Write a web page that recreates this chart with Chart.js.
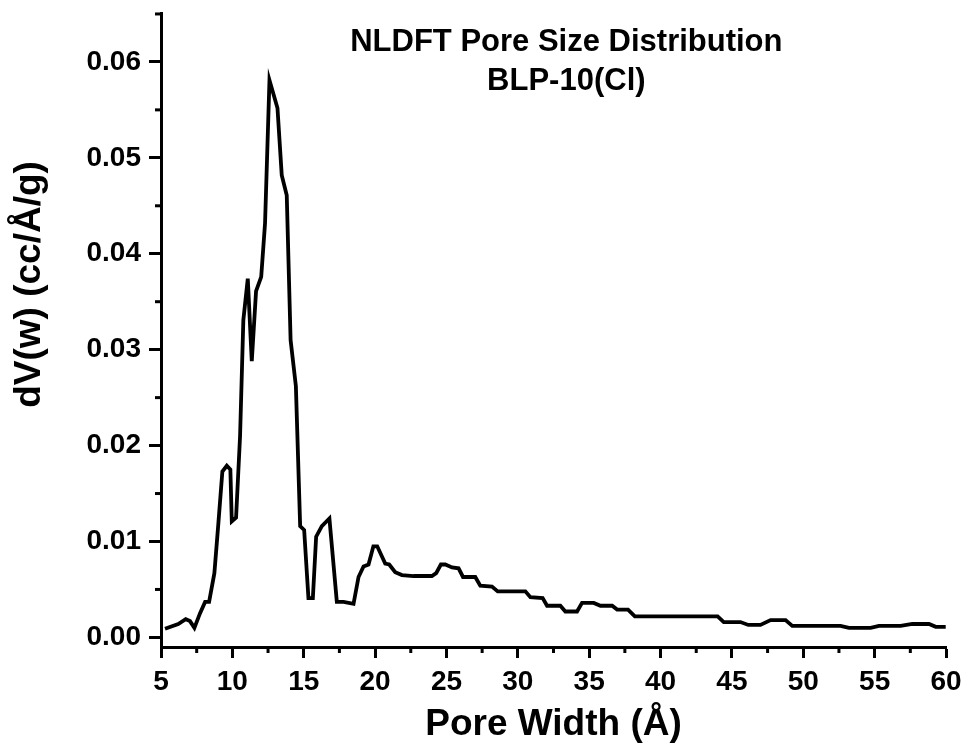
<!DOCTYPE html>
<html>
<head>
<meta charset="utf-8">
<script src="https://cdn.jsdelivr.net/npm/chart.js@4.4.1/dist/chart.umd.min.js"></script>
<style>
  html, body { margin: 0; padding: 0; background: #ffffff; }
  #wrap { width: 967px; height: 753px; position: relative; }
</style>
</head>
<body>
<div id="wrap"><canvas id="c"></canvas></div>
<script>
// Pore width (Å)
const poreWidth = [
  5.28, 6.21, 6.73, 7.03, 7.34, 7.73, 8.09, 8.37, 8.74, 9.02,
  9.30, 9.61, 9.86, 9.96, 10.26, 10.54, 10.77, 11.08, 11.36, 11.66,
  12.02, 12.29, 12.60, 13.16, 13.46, 13.81, 14.08, 14.45, 14.75, 15.03,
  15.33, 15.64, 15.87, 16.27, 16.80, 17.32, 17.79, 18.49, 18.84, 19.19,
  19.54, 19.88, 20.15, 20.71, 20.99, 21.41, 21.88, 22.70, 23.98, 24.28,
  24.61, 24.92, 25.39, 25.85, 26.16, 27.02, 27.37, 28.19, 28.59, 29.47,
  30.53, 30.88, 31.74, 32.05, 32.98, 33.33, 34.15, 34.50, 35.32, 35.79,
  36.61, 36.96, 37.72, 38.20, 42.57, 44.00, 44.43, 45.60, 46.15, 47.00,
  47.71, 48.76, 49.23, 52.61, 53.20, 54.72, 55.30, 56.82, 57.64, 58.81,
  59.28, 59.98
];

// dV(w) (cc/Å/g)
const dV = [
  0.0009, 0.0014, 0.0019, 0.0017, 0.0010, 0.0025, 0.0037, 0.0037, 0.0067, 0.0119,
  0.0173, 0.0179, 0.0175, 0.0121, 0.0125, 0.0210, 0.0331, 0.0374, 0.0288, 0.0361,
  0.0376, 0.0432, 0.0581, 0.0552, 0.0482, 0.0461, 0.0310, 0.0262, 0.0116, 0.0112,
  0.0041, 0.0041, 0.0105, 0.0116, 0.0124, 0.0037, 0.0037, 0.0035, 0.0063, 0.0074,
  0.0076, 0.0095, 0.0095, 0.0077, 0.0076, 0.0068, 0.0065, 0.0064, 0.0064, 0.0067,
  0.0076, 0.0076, 0.0073, 0.0072, 0.0063, 0.0063, 0.0054, 0.0053, 0.0048, 0.0048,
  0.0048, 0.0042, 0.0041, 0.0033, 0.0033, 0.0027, 0.0027, 0.0036, 0.0036, 0.0033,
  0.0033, 0.0029, 0.0029, 0.0022, 0.0022, 0.0022, 0.0016, 0.0016, 0.0013, 0.0013,
  0.0018, 0.0018, 0.0012, 0.0012, 0.0010, 0.0010, 0.0012, 0.0012, 0.0014, 0.0014,
  0.0011, 0.0011
];

const xTickValues = [5, 10, 15, 20, 25, 30, 35, 40, 45, 50, 55, 60];
const xMinorTicks = [7.5, 12.5, 17.5, 22.5, 27.5, 32.5, 37.5, 42.5, 47.5, 52.5, 57.5];
const yTickValues = [0, 0.01, 0.02, 0.03, 0.04, 0.05, 0.06];
const yMinorTicks = [0.005, 0.015, 0.025, 0.035, 0.045, 0.055, 0.065];
const yTickLabels = ['0.00', '0.01', '0.02', '0.03', '0.04', '0.05', '0.06'];

const titleLines = ['NLDFT Pore Size Distribution', 'BLP-10(Cl)'];
const xTitle = 'Pore Width (Å)';
const yTitle = 'dV(w) (cc/Å/g)';

const FONT = '"Liberation Sans", Arial, Helvetica, sans-serif';
const TICK_FONT = { family: FONT, size: 28, weight: 'bold' };
const AXIS_TITLE_SIZE = 37;
const X_TITLE_FONT = { family: FONT, size: AXIS_TITLE_SIZE, weight: 'bold' };
const HEADING_SIZE = 31;

const points = poreWidth.map((w, i) => ({ x: w, y: dV[i] }));

// Minor ticks on both axes, the rotated y-axis title and the two-line heading
const extras = {
  id: 'extras',
  afterDraw(chart) {
    const { ctx, chartArea, scales } = chart;
    const xs = scales.x, ys = scales.y;
    ctx.save();
    ctx.strokeStyle = '#000';
    ctx.lineWidth = 3;
    ctx.lineCap = 'butt';
    xMinorTicks.forEach(v => {
      const px = xs.getPixelForValue(v);
      ctx.beginPath();
      ctx.moveTo(px, chartArea.bottom);
      ctx.lineTo(px, chartArea.bottom + 6);
      ctx.stroke();
    });
    yMinorTicks.forEach(v => {
      const py = ys.getPixelForValue(v);
      ctx.beginPath();
      ctx.moveTo(chartArea.left, py);
      ctx.lineTo(chartArea.left - 6, py);
      ctx.stroke();
    });
    ctx.fillStyle = '#000';
    ctx.textAlign = 'center';
    ctx.textBaseline = 'middle';

    ctx.font = 'bold ' + HEADING_SIZE + 'px ' + FONT;
    const cx = xs.getPixelForValue(33.4);
    ctx.fillText(titleLines[0], cx, ys.getPixelForValue(0.0620));
    ctx.fillText(titleLines[1], cx, ys.getPixelForValue(0.0580));

    ctx.save();
    ctx.translate(30, ys.getPixelForValue(0.0368));
    ctx.rotate(-Math.PI / 2);
    ctx.font = 'bold ' + AXIS_TITLE_SIZE + 'px ' + FONT;
    ctx.fillText(yTitle, 0, 0);
    ctx.restore();
    ctx.restore();
  }
};

new Chart(document.getElementById('c'), {
  type: 'line',
  data: {
    datasets: [{
      data: points,
      borderColor: '#000000',
      borderWidth: 3.8,
      pointRadius: 0,
      tension: 0,
      fill: false
    }]
  },
  options: {
    responsive: true,
    maintainAspectRatio: false,
    animation: false,
    layout: { padding: { left: 0, right: 21, top: 13, bottom: 0 } },
    plugins: { legend: { display: false }, tooltip: { enabled: false }, title: { display: false } },
    scales: {
      x: {
        type: 'linear',
        min: 5,
        max: 60,
        afterBuildTicks(scale) { scale.ticks = xTickValues.map(v => ({ value: v })); },
        afterFit(scale) { scale.height = 106; scale.paddingLeft = 0; scale.paddingRight = 0; },
        border: { display: true, color: '#000', width: 3 },
        grid: { display: true, drawOnChartArea: false, drawTicks: true, tickLength: 11, tickWidth: 3, tickColor: '#000' },
        ticks: { color: '#000', font: TICK_FONT, padding: 7, maxRotation: 0, autoSkip: false },
        title: { display: true, text: xTitle, color: '#000', font: X_TITLE_FONT, padding: { top: 0, bottom: 6 } }
      },
      y: {
        type: 'linear',
        min: -0.001,
        max: 0.0651,
        afterBuildTicks(scale) { scale.ticks = yTickValues.map(v => ({ value: v })); },
        afterFit(scale) { scale.width = 161; scale.paddingTop = 0; scale.paddingBottom = 0; },
        border: { display: true, color: '#000', width: 3 },
        grid: { display: true, drawOnChartArea: false, drawTicks: true, tickLength: 12, tickWidth: 3, tickColor: '#000' },
        ticks: {
          color: '#000', font: TICK_FONT, padding: 8, autoSkip: false,
          callback(value) { const i = yTickValues.indexOf(value); return i >= 0 ? yTickLabels[i] : ''; }
        },
        title: { display: false }
      }
    }
  },
  plugins: [extras]
});
</script>
</body>
</html>
